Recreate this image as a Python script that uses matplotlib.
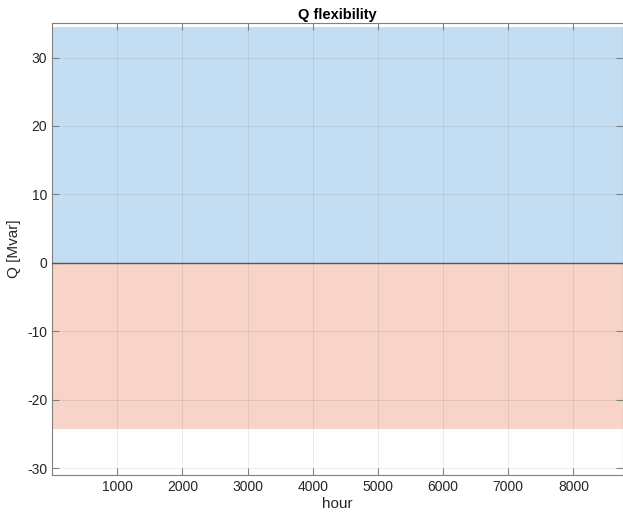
import numpy as np
import matplotlib
matplotlib.use("Agg")
import matplotlib.pyplot as plt

plt.rcParams['font.family'] = ['Liberation Sans', 'DejaVu Sans']
plt.rcParams['axes.unicode_minus'] = False

# Data: hourly reactive power flexibility band
hours = np.arange(1, 8761)
q_up_value = 34.5      # Mvar, upward flexibility each hour
q_down_value = -24.25  # Mvar, downward flexibility each hour
q_up = np.full(hours.size, q_up_value)
q_down = np.full(hours.size, q_down_value)

x_ticks = [1000, 2000, 3000, 4000, 5000, 6000, 7000, 8000]
y_ticks = [-30, -20, -10, 0, 10, 20, 30]

fig = plt.figure(figsize=(6.23, 5.15), dpi=100)
ax = fig.add_axes([0.0835, 0.0777, 0.9165, 0.8770])

ax.bar(hours, q_up, width=1.0, color='#C3DEF3', linewidth=0)
ax.bar(hours, q_down, width=1.0, color='#F7D4C7', linewidth=0)
ax.axhline(0, color='#555555', linewidth=1.0, zorder=3)

ax.set_xlim(0, 8761)
ax.set_ylim(-31, 35)
ax.set_xticks(x_ticks)
ax.set_yticks(y_ticks)
ax.grid(True, color='#262626', alpha=0.1, linewidth=0.6)
ax.set_axisbelow(False)

for s in ax.spines.values():
    s.set_color('#808080')
    s.set_linewidth(0.8)
ax.tick_params(direction='in', top=True, right=True, length=5, width=0.8,
               color='#808080', labelcolor='#262626', labelsize=10)

ax.set_title('Q flexibility', fontsize=10.5, fontweight='bold', color='black', pad=3)
ax.set_xlabel('hour', fontsize=11, color='#262626', labelpad=2)
ax.set_ylabel('Q [Mvar]', fontsize=11, color='#262626', labelpad=4)

fig.savefig('out.png', dpi=100)
